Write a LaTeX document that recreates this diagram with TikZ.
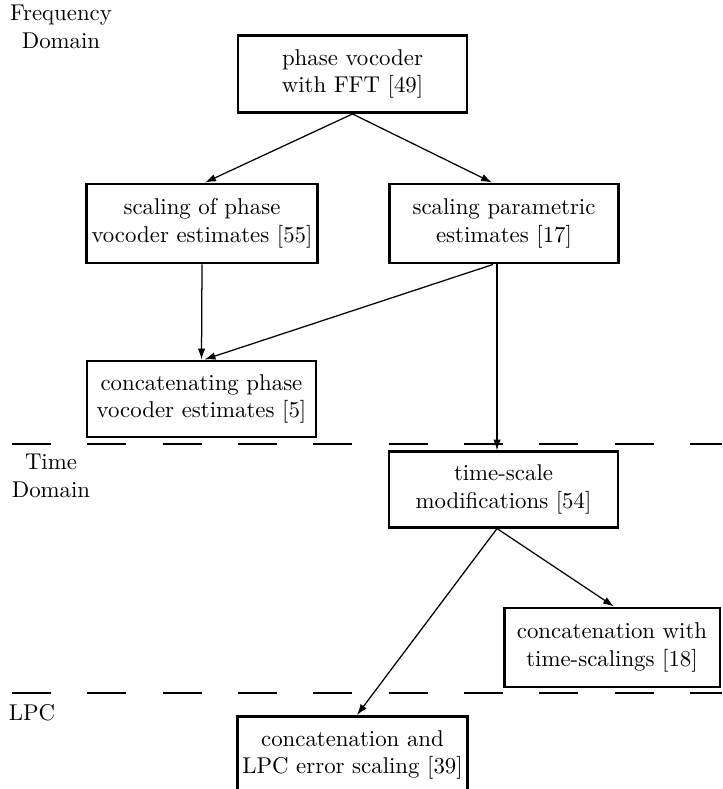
\documentclass[tikz,border=0pt]{standalone}
\usetikzlibrary{arrows.meta,calc}
\begin{document}
\begin{tikzpicture}[x=0.438pt,y=-0.438pt,
  stage/.style={draw,line width=1.3pt,rectangle,align=center,
    minimum width=100.3pt,minimum height=33.7pt,inner sep=2pt},
  arr/.style={line width=0.55pt,-{Latex[length=4.8pt,width=3.3pt]}},
  domainsplit/.style={line width=0.9pt,dash pattern=on 17.1pt off 15.9pt},
  domlabel/.style={align=center,inner sep=0pt}]
\useasboundingbox (0,0) rectangle (722,789);
\clip (0,0) rectangle (722,789);

% domain labels
\node[domlabel] (lblfreq) at (61,27) {Frequency\\Domain};
\node[domlabel] (lbltime) at (51,476) {Time\\Domain};
\node[domlabel] (lbllpc) at (32,713) {LPC};

% domain boundaries
\draw[domainsplit] (12,444) -- (722,444);
\draw[domainsplit] (12,693) -- (722,693);

% processing stages
\node[stage] (b1) at (352.5,74) {phase vocoder\\with FFT [49]};
\node[stage,minimum height=34.6pt] (b2) at (202,223.5) {scaling of phase\\vocoder estimates [55]};
\node[stage,minimum width=99.9pt,minimum height=34.6pt] (b3) at (504,223.5) {scaling parametric\\estimates [17]};
\node[stage,minimum height=33.3pt] (b4) at (201.5,399) {concatenating phase\\vocoder estimates [5]};
\node[stage,minimum height=32.9pt] (b5) at (503.5,489.5) {time-scale\\modifications [54]};
\node[stage,minimum width=94.6pt,minimum height=34.6pt] (b6) at (612,647.5) {concatenation with\\time-scalings [18]};
\node[stage] (b7) at (352.5,755) {concatenation and\\LPC error scaling [39]};

% connectors
\draw[arr] (b1.south) -- ($(b2.north)+(3,0)$);
\draw[arr] (b1.south) -- ($(b3.north)+(-12,0)$);
\draw[arr] (b2.south) -- (b4.north);
\draw[arr] ($(b3.south)+(-11,0)$) -- ($(b4.north)+(3,0)$);
\draw[arr] ($(b3.south)+(-7,0)$) coordinate (vtop) -- (vtop |- b5.north);
\draw[arr] ($(b5.south)+(-6.5,0)$) -- ($(b6.north)+(2,0)$);
\draw[arr] ($(b5.south)+(-6.5,0)$) -- ($(b7.north)+(4.5,0)$);
\end{tikzpicture}
\end{document}
